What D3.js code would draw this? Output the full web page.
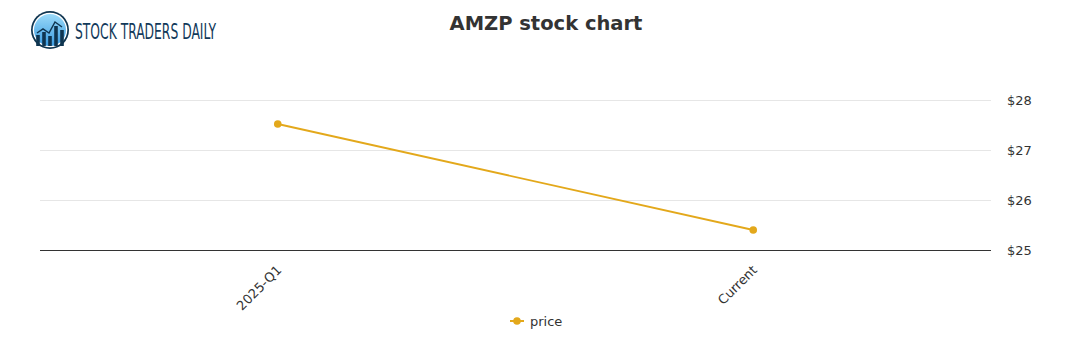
<!DOCTYPE html>
<html><head><meta charset="utf-8">
<script src="https://cdn.jsdelivr.net/npm/d3@7/dist/d3.min.js"></script>
<style>body{margin:0;background:#fff;font-family:"DejaVu Sans",sans-serif;}</style>
</head><body><svg id="c" width="1091" height="350"></svg>
<script>
const categories = ["2025-Q1", "Current"];
const prices = [27.52, 25.4];
const yTicks = [25, 26, 27, 28];
const seriesName = "price";
const title = "AMZP stock chart";

(function(){
const svg = d3.select("#c");
const color = "#e3a81b";
const pl = 40, pr = 991, pt = 100, pb = 250;
const x = d3.scalePoint().domain(categories).range([pl, pr]).padding(0.5);
const y = d3.scaleLinear().domain([25, 28]).range([pb, pt]);

// logo
const lg = svg.append("g");
lg.append("circle").attr("cx", 50).attr("cy", 30).attr("r", 19).attr("fill", "#0f3550");
lg.append("circle").attr("cx", 50).attr("cy", 30).attr("r", 17.3).attr("fill", "#fff");
const grad = svg.append("defs").append("linearGradient").attr("id","lgGrad").attr("x1",0).attr("y1",0).attr("x2",0).attr("y2",1);
grad.append("stop").attr("offset","0%").attr("stop-color","#9bdaf9");
grad.append("stop").attr("offset","100%").attr("stop-color","#3a9be0");
lg.append("circle").attr("cx", 50).attr("cy", 30).attr("r", 16).attr("fill", "url(#lgGrad)");
[[38,35,12],[44,32,15],[50,36,11],[56,26,21],[62,30,16]].forEach(([bx,by,bh])=>{
  lg.append("rect").attr("x",bx-1.8).attr("y",by).attr("width",3.6).attr("height",Math.min(bh,46-by)).attr("fill","#0f3550");
});
lg.append("polyline").attr("points","37,33 43,29 49,33 55,22 62,27").attr("fill","none").attr("stroke","#0f3550").attr("stroke-width",1.5);
lg.append("text").attr("x", 75).attr("y", 39).text("STOCK TRADERS DAILY")
  .attr("font-family", "'Liberation Sans Narrow','DejaVu Sans Condensed',sans-serif")
  .attr("font-stretch","condensed")
  .attr("font-size", 22).attr("fill", "#12395a").attr("textLength", 141).attr("lengthAdjust","spacingAndGlyphs");

// title
svg.append("text").attr("x", 546).attr("y", 30).attr("text-anchor", "middle")
  .attr("font-size", 19.5).attr("font-weight", "bold").attr("fill", "#333").text(title);

// grid
svg.append("g").selectAll("line").data(yTicks.filter(d => d !== 25)).join("line")
  .attr("x1", pl).attr("x2", pr).attr("y1", d => y(d)).attr("y2", d => y(d))
  .attr("stroke", "#e6e6e6").attr("stroke-width", 1).attr("shape-rendering","crispEdges");

// y axis labels
const yAxis = d3.axisRight(y).tickValues(yTicks).tickFormat(d => "$" + d).tickSize(0).tickPadding(0);
const ya = svg.append("g").attr("transform", `translate(1007,0)`).call(yAxis);
ya.select(".domain").remove();
ya.selectAll("text").attr("font-size", 13).attr("fill", "#333").attr("font-family","'DejaVu Sans',sans-serif");

// x axis
const xAxis = d3.axisBottom(x).tickSize(0).tickPadding(0);
const xa = svg.append("g").attr("transform", `translate(0,${pb})`).call(xAxis);
xa.select(".domain").attr("d", `M${pl},0.5H${pr}`).attr("stroke", "#333");
xa.selectAll("text").attr("font-size", 13).attr("fill", "#333").attr("font-family","'DejaVu Sans',sans-serif")
  .attr("text-anchor", "end").attr("dy", null)
  .attr("transform", "translate(4,21) rotate(-45)");

// line
const line = d3.line().x((d, i) => x(categories[i])).y(d => y(d));
svg.append("path").datum(prices).attr("d", line).attr("fill", "none").attr("stroke", color).attr("stroke-width", 1.8);
svg.append("g").selectAll("circle").data(prices).join("circle")
  .attr("cx", (d, i) => x(categories[i])).attr("cy", d => y(d)).attr("r", 3.8).attr("fill", color);

// legend
const leg = svg.append("g").attr("transform", "translate(517,321)");
leg.append("line").attr("x1", -7).attr("x2", 7).attr("stroke", color).attr("stroke-width", 2);
leg.append("circle").attr("r", 3.8).attr("fill", color);
leg.append("text").attr("x", 13).attr("y", 4.5).attr("font-size", 13).attr("fill", "#333").text(seriesName);
})();
</script></body></html>
